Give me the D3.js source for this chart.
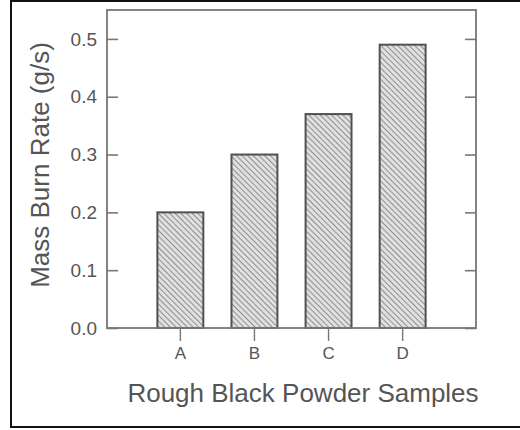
<!DOCTYPE html>
<html><head><meta charset="utf-8">
<script src="https://cdn.jsdelivr.net/npm/d3@7"></script>
<style>body{margin:0;background:#fff}svg{display:block}</style>
</head><body>
<script>
const categories = ["A","B","C","D"];
const values = [0.20, 0.30, 0.37, 0.49];
const yTicks = [0.0,0.1,0.2,0.3,0.4,0.5];
const xTitle = "Rough Black Powder Samples";
const yTitle = "Mass Burn Rate (g/s)";

const W=520,H=430;
const m={left:107,top:10,right:44,bottom:102};
const svg=d3.select("body").append("svg").attr("width",W).attr("height",H);
const defs=svg.append("defs");
const pat=defs.append("pattern").attr("id","hatch").attr("patternUnits","userSpaceOnUse")
  .attr("width",4).attr("height",4).attr("patternTransform","rotate(-45)");
pat.append("rect").attr("width",4).attr("height",4).attr("fill","#e0e0e0");
pat.append("line").attr("x1",0).attr("y1",0).attr("x2",0).attr("y2",4).attr("stroke","#7a7a7a").attr("stroke-width",1.6);

// outer border
svg.append("line").attr("x1",10).attr("x2",W).attr("y1",1).attr("y2",1).attr("stroke","#111").attr("stroke-width",2);
svg.append("line").attr("x1",11).attr("x2",11).attr("y1",0).attr("y2",428).attr("stroke","#111").attr("stroke-width",2);
svg.append("line").attr("x1",10).attr("x2",W).attr("y1",427).attr("y2",427).attr("stroke","#111").attr("stroke-width",2);

const pw=W-m.left-m.right, ph=H-m.top-m.bottom;
const g=svg.append("g").attr("transform",`translate(${m.left},${m.top})`);
const x=d3.scaleBand().domain(categories).range([0,pw]).paddingInner(0.38).paddingOuter(0.68);
const y=d3.scaleLinear().domain([0,0.55]).range([ph,0]);

g.selectAll("rect.bar").data(values).join("rect").attr("class","bar")
  .attr("x",(d,i)=>x(categories[i])).attr("width",x.bandwidth())
  .attr("y",d=>y(d)).attr("height",d=>y(0)-y(d))
  .attr("fill","url(#hatch)").attr("stroke","#505050").attr("stroke-width",2);

g.append("rect").attr("width",pw).attr("height",ph).attr("fill","none").attr("stroke","#777").attr("stroke-width",1.8);

const font="Liberation Sans, Arial, sans-serif";
const ya=g.append("g").call(d3.axisLeft(y).tickValues(yTicks).tickFormat(d3.format(".1f")).tickSizeInner(-11).tickSizeOuter(0).tickPadding(10));
ya.select(".domain").remove();
ya.selectAll("line").attr("stroke","#777").attr("stroke-width",1.6);
ya.selectAll("text").attr("fill","#555").style("font-family",font).style("font-size","19px");

const yr=g.append("g").attr("transform",`translate(${pw},0)`).call(d3.axisRight(y).tickValues(yTicks).tickFormat("").tickSizeInner(-11).tickSizeOuter(0));
yr.select(".domain").remove();
yr.selectAll("line").attr("stroke","#777").attr("stroke-width",1.6);

const xa=g.append("g").attr("transform",`translate(0,${ph})`).call(d3.axisBottom(x).tickSizeInner(13).tickSizeOuter(0).tickPadding(6));
xa.select(".domain").remove();
xa.selectAll("line").attr("stroke","#777").attr("stroke-width",1.4);
xa.selectAll("text").attr("fill","#555").style("font-family",font).style("font-size","17px");

svg.append("text").attr("x",303).attr("y",402).attr("text-anchor","middle")
  .attr("fill","#555").style("font-family",font).style("font-size","26px").text(xTitle);
svg.append("text").attr("transform",`translate(49,165) rotate(-90)`).attr("text-anchor","middle")
  .attr("fill","#555").style("font-family",font).style("font-size","26px").text(yTitle);
</script>
</body></html>
